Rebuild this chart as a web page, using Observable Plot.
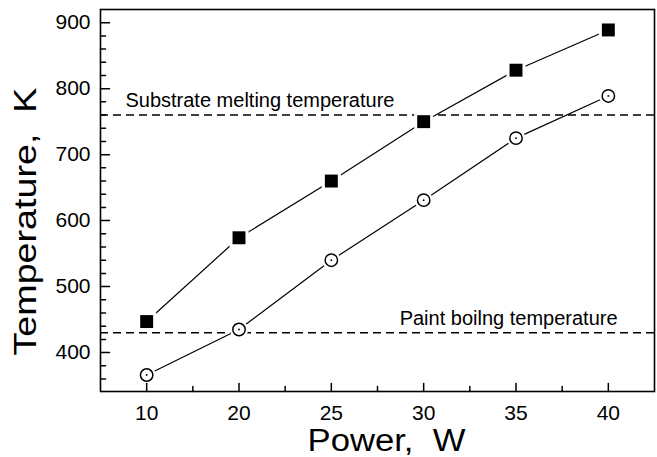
<!DOCTYPE html>
<html>
<head>
<meta charset="utf-8">
<script src="https://cdn.jsdelivr.net/npm/d3@7"></script>
<script src="https://cdn.jsdelivr.net/npm/@observablehq/plot@0.6"></script>
<style>
  html, body { margin: 0; padding: 0; background: #fff; }
</style>
</head>
<body>
<div id="chart"></div>
<script>
const power = [10, 20, 25, 30, 35, 40];
const tempSquare = [447, 574, 660, 750, 828, 889];
const tempCircle = [366, 435, 540, 631, 725, 789];
const refTemps = [760, 430];
const refLabels = ["Substrate melting temperature", "Paint boilng temperature"];
const refLabelPos = [0.77, 3.74]; // position along the category axis (1 = first power value)
const yTicks = [400, 500, 600, 700, 800, 900];
const yMinor = d3.range(360, 920, 20).filter(v => v % 100 !== 0);
const xMinor = d3.range(1.5, 6, 1);
const yTitle = "Temperature,\u00a0\u00a0K";
const xTitle = "Power,\u00a0\u00a0W";

const rows = power.map((p, i) => ({i: i + 1, p, sq: tempSquare[i], ci: tempCircle[i]}));
const tickShape = {draw(context, l) { context.moveTo(0, 0); context.lineTo(0, -l); }};

const plot = Plot.plot({
  width: 657,
  height: 457,
  marginLeft: 100,
  marginRight: 3,
  marginTop: 9,
  marginBottom: 66,
  x: {domain: [0.5, power.length + 0.5], axis: null},
  y: {domain: [341, 920], axis: null},
  style: {fontFamily: "'Liberation Sans', Arial, sans-serif", color: "black", background: "white"},
  marks: [
    Plot.ruleY(refTemps, {y: d => d, stroke: "black", strokeWidth: 1.5, strokeDasharray: "8,5"}),
    Plot.text(refTemps, {y: d => d, x: (d, i) => refLabelPos[i], text: (d, i) => refLabels[i],
      textAnchor: "start", lineAnchor: "bottom", dy: -8, fontSize: 20, fill: "black"}),
    Plot.line(rows, {x: "i", y: "sq", stroke: "black", strokeWidth: 1.2}),
    Plot.line(rows, {x: "i", y: "ci", stroke: "black", strokeWidth: 1.2}),
    Plot.dot(rows, {x: "i", y: "sq", symbol: "square", r: 7.3, fill: "black", stroke: "white", strokeWidth: 6}),
    Plot.dot(rows, {x: "i", y: "sq", symbol: "square", r: 7.3, fill: "black", stroke: "none"}),
    Plot.dot(rows, {x: "i", y: "ci", r: 6.2, fill: "white", stroke: "white", strokeWidth: 6}),
    Plot.dot(rows, {x: "i", y: "ci", r: 6.2, fill: "white", stroke: "black", strokeWidth: 1.5}),
    Plot.dot(rows, {x: "i", y: "ci", r: 0.9, fill: "black", stroke: "none"}),
    Plot.frame({stroke: "black", strokeWidth: 1.6}),
    // inward ticks
    Plot.vector(yTicks, {y: d => d, frameAnchor: "left", rotate: 90, length: 9, anchor: "start", shape: tickShape, stroke: "black", strokeWidth: 1.5}),
    Plot.vector(yMinor, {y: d => d, frameAnchor: "left", rotate: 90, length: 5, anchor: "start", shape: tickShape, stroke: "black", strokeWidth: 1.5}),
    Plot.vector(rows, {x: "i", frameAnchor: "bottom", rotate: 0, length: 8, anchor: "start", shape: tickShape, stroke: "black", strokeWidth: 1.5}),
    Plot.vector(xMinor, {x: d => d, frameAnchor: "bottom", rotate: 0, length: 5, anchor: "start", shape: tickShape, stroke: "black", strokeWidth: 1.5}),
    // tick labels
    Plot.text(yTicks, {y: d => d, text: d => String(d), frameAnchor: "left", dx: -10, textAnchor: "end", fontSize: 21, fill: "black"}),
    Plot.text(rows, {x: "i", text: d => String(d.p), frameAnchor: "bottom", lineAnchor: "top", dy: 14, fontSize: 21, fill: "black"}),
    // axis titles
    Plot.text([xTitle], {text: d => d, frameAnchor: "bottom", textAnchor: "start", lineAnchor: "bottom", dy: 59, dx: -70, fontSize: 31, fill: "black"}),
    Plot.text([yTitle], {text: d => d, frameAnchor: "left", rotate: -90, textAnchor: "start", lineAnchor: "bottom", dx: -65, dy: 155, fontSize: 31, fill: "black"})
  ]
});

d3.select(plot).selectAll("text").each(function() {
  if (this.textContent === yTitle) d3.select(this).attr("textLength", 268).attr("lengthAdjust", "spacingAndGlyphs");
  if (this.textContent === xTitle) d3.select(this).attr("textLength", 158).attr("lengthAdjust", "spacingAndGlyphs");
});

document.getElementById("chart").appendChild(plot);
</script>
</body>
</html>
